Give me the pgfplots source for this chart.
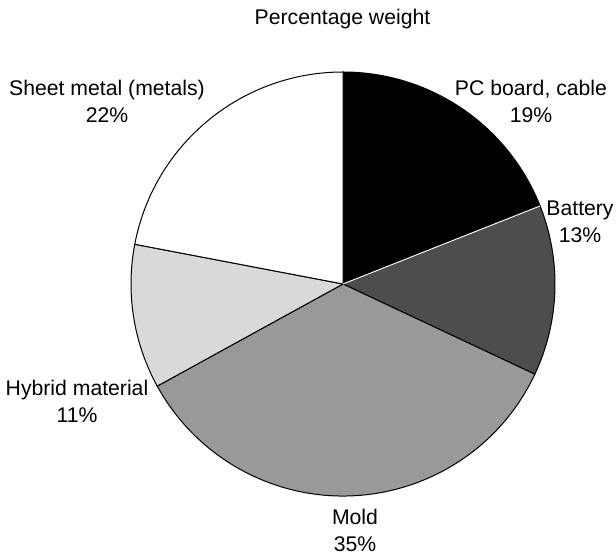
\documentclass[border=0pt]{standalone}
\usepackage{pgfplots}
\pgfplotsset{compat=1.18}
\usepackage{fontspec}
\setmainfont{Liberation Sans}

\definecolor{batt}{HTML}{4D4D4D}
\definecolor{mold}{HTML}{999999}
\definecolor{hybr}{HTML}{D9D9D9}

\tikzset{lbl/.style={font=\fontsize{21.2bp}{27bp}\selectfont, align=center, inner sep=0pt}}

% slice values (percent), clockwise from 12 o'clock
\def\slices{19/black, 13/batt, 35/mold, 11/hybr, 22/white}

\begin{document}
\begin{tikzpicture}
\begin{axis}[
    width=616bp, height=554bp,
    scale only axis,
    xmin=0, xmax=616,
    ymin=0, ymax=554,
    hide axis,
    clip=false,
  ]
  \path (axis cs:0,0) rectangle (axis cs:616,554);
  \coordinate (c) at (axis cs:343,270);
  \node[lbl] at (axis cs:342.5,535) {Percentage weight};
  \node[lbl] at (axis cs:531,453) {PC board, cable\\19\%};
  \node[lbl] at (axis cs:580,332) {Battery\\13\%};
  \node[lbl] at (axis cs:355,24) {Mold\\35\%};
  \node[lbl] at (axis cs:77,153) {Hybrid material\\11\%};
  \node[lbl] at (axis cs:107,453) {Sheet metal (metals)\\22\%};
\end{axis}
\def\a{90}
\foreach \v/\col in \slices {
  \pgfmathsetmacro\b{\a-3.6*\v}
  \filldraw[fill=\col, draw=black, line width=1bp, line join=round]
    (c) -- ++(\a:212bp) arc[start angle=\a, end angle=\b, radius=212bp] -- cycle;
  \global\let\a\b
}
\draw[white, line width=1bp] (c) -- ++(21.6:212bp);
\end{tikzpicture}
\end{document}
